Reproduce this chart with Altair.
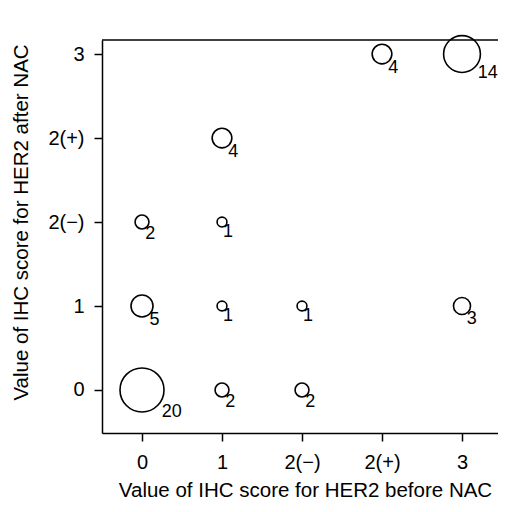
import altair as alt
import pandas as pd

categories = ["0", "1", "2(−)", "2(+)", "3"]
before = ["0", "1", "2(−)", "0", "1", "2(−)", "3", "0", "1", "1", "2(+)", "3"]
after = ["0", "0", "0", "1", "1", "1", "1", "2(−)", "2(−)", "2(+)", "3", "3"]
counts = [20, 2, 2, 5, 1, 1, 3, 2, 1, 4, 4, 14]

df = pd.DataFrame({"before": before, "after": after, "n": counts})
df["xi"] = df["before"].map(categories.index)
df["yi"] = df["after"].map(categories.index)

W, H = 396, 393
FONT = "Liberation Sans"
label_expr = "['0','1','2(−)','2(+)','3'][datum.value]"

xscale = alt.Scale(domain=[-0.5, 4.45], nice=False, zero=False)
yscale = alt.Scale(domain=[-0.512, 4.167], nice=False, zero=False)

xaxis = alt.Axis(values=[0, 1, 2, 3, 4], labelExpr=label_expr,
                 title="Value of IHC score for HER2 before NAC",
                 titleX=203, titleY=63, titleBaseline="alphabetic",
                 labelPadding=11)
yaxis = alt.Axis(values=[0, 1, 2, 3, 4], labelExpr=label_expr,
                 title="Value of IHC score for HER2 after NAC",
                 titleX=-75, titleY=182, titleBaseline="alphabetic",
                 labelPadding=10)

base = alt.Chart(df)

points = base.mark_point(shape="circle", filled=False, color="black",
                         strokeWidth=1.6, opacity=1).encode(
    x=alt.X("xi:Q", scale=xscale, axis=xaxis),
    y=alt.Y("yi:Q", scale=yscale, axis=yaxis),
    size=alt.Size("n:Q", scale=alt.Scale(domain=[0, 20], range=[0, 1936]), legend=None),
)

labels = base.transform_calculate(
    r="sqrt(96.8 * datum.n) / 2",
).transform_calculate(
    lx="datum.xi + (1.1 * datum.r - 4.5) / 80",
    ly="datum.yi - (0.67 * datum.r + 12) / 84",
).mark_text(align="left", baseline="alphabetic", font=FONT, fontSize=18,
            color="black").encode(
    x=alt.X("lx:Q", scale=xscale),
    y=alt.Y("ly:Q", scale=yscale),
    text="n:Q",
)

top_rule = alt.Chart(pd.DataFrame({"a": [0]})).mark_rule(
    color="black", strokeWidth=1.5).encode(
    x=alt.value(0), x2=alt.value(W), y=alt.value(0))

chart = alt.layer(top_rule, points, labels).properties(
    width=W, height=H,
    autosize=alt.AutoSizeParams(type="none"),
    padding={"left": 94, "top": 32, "right": 0, "bottom": 67},
).configure_view(stroke=None).configure_axis(
    grid=False, domainColor="black", domainWidth=1.5, tickColor="black",
    tickSize=8, tickWidth=1.5, labelFont=FONT, labelFontSize=20,
    labelColor="black", titleFont=FONT, titleFontSize=20.5,
    titleFontWeight="normal", titleColor="black",
)

chart.save("out.html", embed_options={"renderer": "svg", "actions": False})
